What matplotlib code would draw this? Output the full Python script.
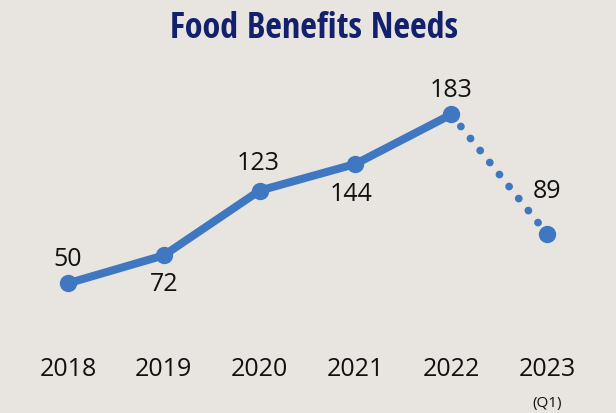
import matplotlib
matplotlib.use("Agg")
import matplotlib.pyplot as plt

# ── data ─────────────────────────────────────────────────────────────────────
years = ["2018", "2019", "2020", "2021", "2022", "2023"]
needs = [50, 72, 123, 144, 183, 89]
# label offsets (points): above / below each marker
label_offsets = [(0, 18), (0, -20), (-1, 20), (-3, -21), (0, 18), (0, 31)]

BG = "#e8e5e0"
BLUE = "#3f78c1"
NAVY = "#13206b"

plt.rcParams["font.family"] = ["Open Sans", "DejaVu Sans"]

fig = plt.figure(figsize=(6.16, 4.14), dpi=100, facecolor=BG)
ax = fig.add_axes([0, 0.16, 1, 0.696])
ax.set_facecolor(BG)

x = list(range(len(years)))

# solid part 2018-2022
ax.plot(x[:5], needs[:5], color=BLUE, linewidth=5.8, solid_capstyle="round",
        marker="o", markersize=11.5, zorder=3)
# dotted projection 2022 -> 2023 Q1
ax.plot(x[4:], needs[4:], color=BLUE, linewidth=5.6, linestyle=(0, (0.01, 1.97)),
        dash_capstyle="round", zorder=2)
ax.plot(x[5:], needs[5:], color=BLUE, marker="o", markersize=11.5, linestyle="none", zorder=3)

for xi, v, off in zip(x, needs, label_offsets):
    ax.annotate(str(v), (xi, v), xytext=off, textcoords="offset points",
                ha="center", va="center", fontsize=18, color="#111111")

ax.set_xlim(-0.71, 5.72)
ax.set_ylim(0, 227)
ax.set_xticks(x)
ax.set_xticklabels(years, fontsize=18, color="#111111")
ax.tick_params(axis="x", length=0, pad=6.5)
ax.set_yticks([])
for s in ax.spines.values():
    s.set_visible(False)

ax.annotate("(Q1)", (5, 0), xycoords=("data", "axes fraction"), xytext=(0, -40),
            textcoords="offset points", ha="center", va="center", fontsize=11,
            color="#111111")

fig.text(0.51, 0.93, "Food Benefits Needs", ha="center", va="center",
         fontsize=26, fontweight="bold", color=NAVY,
         family=["Open Sans Condensed", "DejaVu Sans"])

fig.savefig("out.png", dpi=100, facecolor=BG)
